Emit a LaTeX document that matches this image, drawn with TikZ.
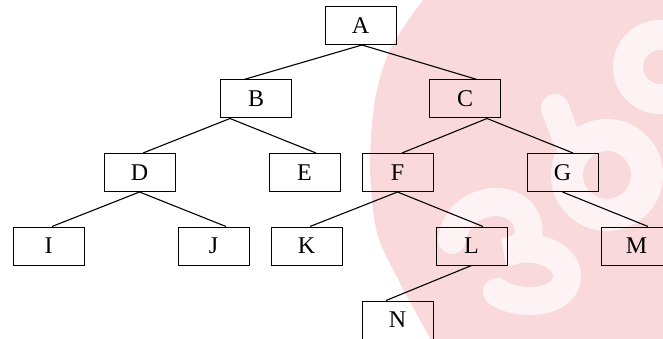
\documentclass[tikz,border=0pt]{standalone}
\usepackage{fontspec}
\setmainfont{Liberation Serif}
\definecolor{wmpink}{HTML}{F9D9DB}
\definecolor{wmlight}{HTML}{FDF3F4}
\begin{document}
\begin{tikzpicture}[x=1pt,y=-1pt,
  treebox/.style={draw=black, line width=1pt, minimum width=71pt,
    minimum height=38pt, inner sep=0pt, font=\fontsize{24}{24}\selectfont},
  branch/.style={draw=black, line width=1.1pt},
  wmstroke/.style={draw=wmlight, line width=28pt, line cap=round}]
\useasboundingbox (0,0) rectangle (663,339);

% background logo
\fill[wmpink] plot[smooth] coordinates {(445,-20) (423,0) (390,50) (375,100)
  (370,167) (377,233) (400,283) (427,333) (440,360)} -- (700,360) -- (700,-20) -- cycle;
\draw[wmstroke] (452,240) .. controls (458,195) and (520,190) .. (528,225)
  .. controls (532,245) and (515,252) .. (505,252)
  .. controls (545,240) and (575,262) .. (565,285)
  .. controls (555,305) and (515,305) .. (497,292);
\draw[wmlight, line width=32pt] (607,175) circle (40);
\draw[wmstroke] (567,140) -- (555,108);
\draw[wmlight, line width=30pt] (660,67) circle (32);

% tree nodes
\node[treebox] (A) at (360.5,25.5) {A};
\node[treebox] (B) at (256,99) {B};
\node[treebox] (C) at (465,99) {C};
\node[treebox] (D) at (139.5,172.5) {D};
\node[treebox] (E) at (304.5,172.5) {E};
\node[treebox] (F) at (397.5,172.5) {F};
\node[treebox] (G) at (562.5,172.5) {G};
\node[treebox] (I) at (48.5,246) {I};
\node[treebox] (J) at (213.5,246) {J};
\node[treebox] (K) at (306.5,246) {K};
\node[treebox] (L) at (471.5,246) {L};
\node[treebox] (M) at (636.5,246) {M};
\node[treebox] (N) at (397.5,320) {N};

% branches
\draw[branch] ([xshift=1.5pt]A.south) -- ([xshift=-12pt]B.north);
\draw[branch] ([xshift=1.5pt]A.south) -- ([xshift=12pt]C.north);
\draw[branch] ([xshift=-26pt]B.south) -- ([xshift=3.5pt]D.north);
\draw[branch] ([xshift=-26pt]B.south) -- ([xshift=11.5pt]E.north);
\draw[branch] ([xshift=22pt]C.south) -- ([xshift=4.5pt]F.north);
\draw[branch] ([xshift=22pt]C.south) -- ([xshift=10.5pt]G.north);
\draw[branch] (D.south) -- ([xshift=3.5pt]I.north);
\draw[branch] (D.south) -- ([xshift=12.5pt]J.north);
\draw[branch] (F.south) -- ([xshift=3.5pt]K.north);
\draw[branch] (F.south) -- ([xshift=11.5pt]L.north);
\draw[branch] (G.south) -- ([xshift=11.5pt]M.north);
\draw[branch] (L.south) -- ([xshift=-11.5pt]N.north);
\end{tikzpicture}
\end{document}
